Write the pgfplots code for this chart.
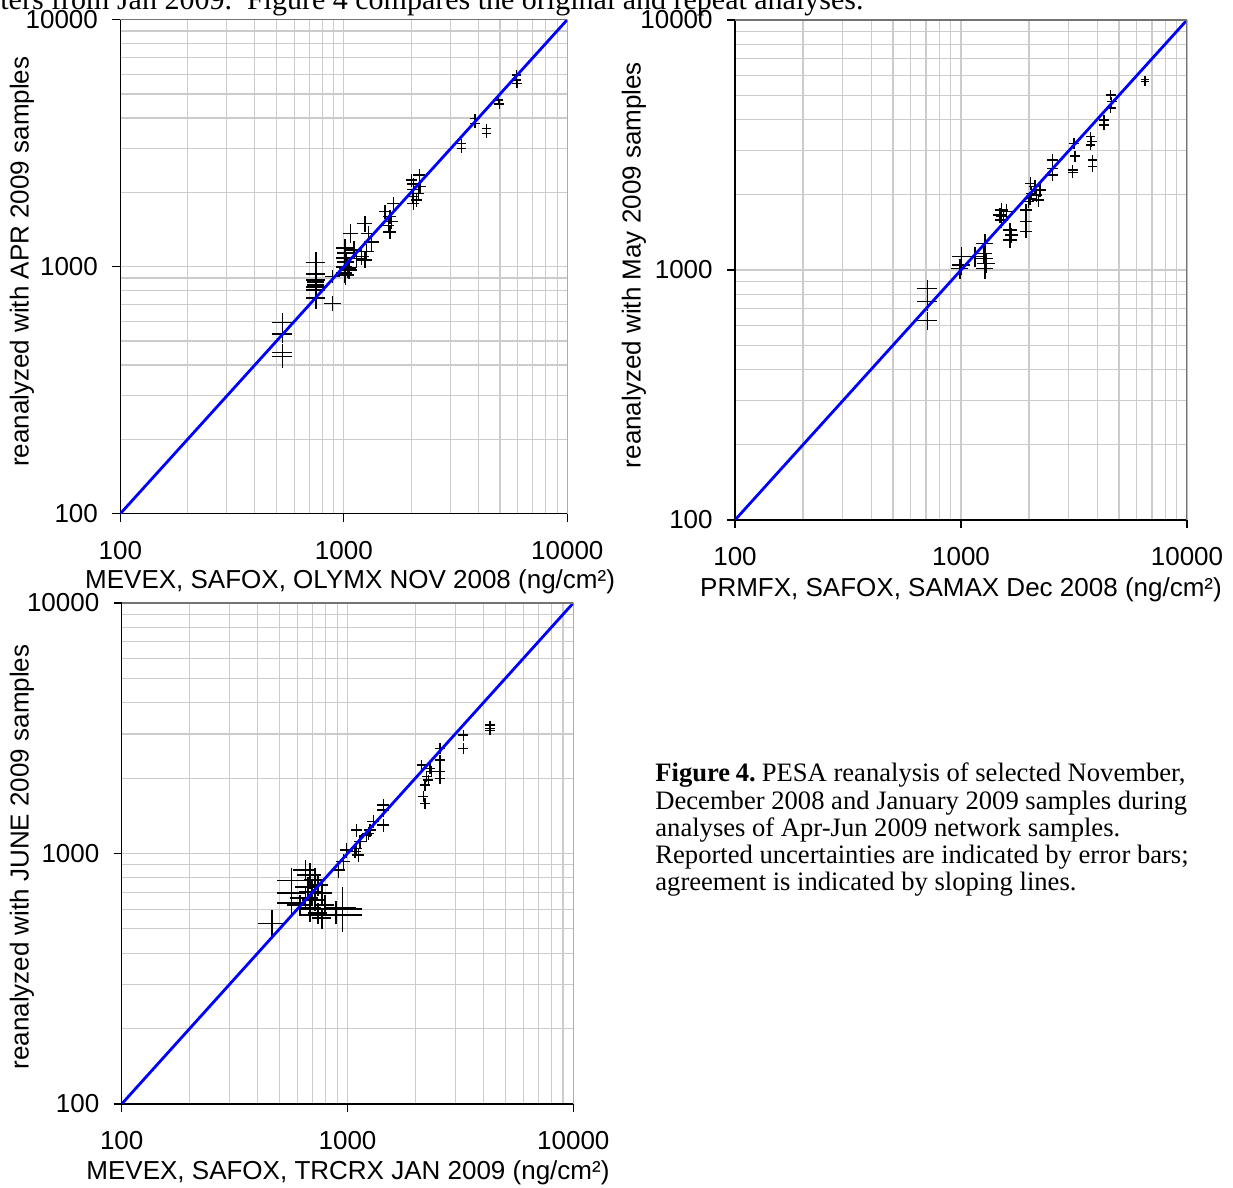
\documentclass[border=0pt]{standalone}
\usepackage{fontspec}
\setmainfont{Liberation Sans}
\newfontfamily\timesfont{Liberation Serif}
\usepackage{pgfplots}
\usepackage{pgfplotstable}
\pgfplotsset{compat=1.18}

\newcommand{\lblfont}{\fontsize{13}{15}\selectfont}

\pgfplotsset{every axis/.append style={
    scale only axis,
    axis lines=left, axis line style={-, black, line width=0.6pt},
    tick align=outside,
    major tick length=4pt, minor tick length=0pt,
    tick style={black, line width=0.6pt},
    grid=both,
    major grid style={draw=gray!40, line width=0.55pt},
    minor grid style={draw=gray!40, line width=0.55pt},
    xticklabel style={font=\lblfont, anchor=center, inner sep=0pt, yshift=-14.5pt},
    yticklabel style={font=\lblfont, anchor=east, inner sep=0pt, xshift=-7pt},
}}

% x y ex ey (relative errors)
\pgfplotstableread{
x y ex ey
533 593 0.10 0.10
533 534 0.10 0.08
533 449 0.10 0.08
533 432 0.10 0.10
751 1038 0.10 0.10
751 933 0.10 0.07
751 883 0.10 0.07
751 865 0.09 0.07
751 843 0.09 0.07
751 826 0.10 0.07
751 805 0.10 0.07
751 748 0.10 0.10
892 912 0.08 0.06
892 711 0.09 0.07
1074 1365 0.08 0.09
1013 1191 0.085 0.085
1020 1137 0.085 0.085
1013 1084 0.085 0.085
1024 1045 0.085 0.085
1005 997 0.085 0.085
1040 988 0.085 0.085
1005 943 0.085 0.085
1020 925 0.085 0.085
1055 970 0.085 0.085
1110 1170 0.085 0.085
1140 1080 0.085 0.085
1244 1499 0.075 0.075
1287 1365 0.075 0.075
1333 1256 0.075 0.075
1266 1150 0.075 0.075
1202 1098 0.075 0.075
1244 1064 0.075 0.075
1665 1806 0.065 0.065
1530 1670 0.065 0.065
1609 1594 0.065 0.065
1638 1521 0.065 0.065
1581 1470 0.065 0.065
1609 1380 0.065 0.065
2177 2351 0.06 0.06
2013 2244 0.06 0.06
2046 2162 0.06 0.06
2193 2108 0.06 0.06
2046 2058 0.06 0.06
2155 1982 0.06 0.06
2033 1920 0.06 0.06
2119 1862 0.06 0.06
2046 1806 0.06 0.06
3370 3159 0.05 0.045
3370 3015 0.05 0.045
3864 3989 0.05 0.045
3864 3806 0.05 0.045
4360 3634 0.05 0.045
4360 3467 0.05 0.045
4912 4731 0.05 0.045
4963 4558 0.05 0.045
5936 5971 0.05 0.045
5936 5700 0.05 0.045
5960 5526 0.05 0.045
}\dataA

\pgfplotstableread{
x y ex ey
712 845 0.10 0.08
712 747 0.10 0.08
712 627 0.10 0.08
1277 1279 0.09 0.09
1256 1166 0.09 0.09
1277 1114 0.09 0.09
1299 1064 0.09 0.09
1277 1016 0.09 0.09
1153 1130 0.09 0.09
1007 1130 0.09 0.09
1007 1047 0.09 0.09
990 1016 0.09 0.09
1514 1738 0.07 0.07
1593 1711 0.07 0.07
1488 1660 0.07 0.07
1539 1634 0.07 0.07
1514 1585 0.07 0.07
1648 1445 0.07 0.07
1676 1380 0.07 0.07
1648 1318 0.07 0.07
1940 1738 0.06 0.06
1940 1561 0.06 0.06
1940 1423 0.06 0.06
2034 2223 0.06 0.06
2126 2154 0.06 0.06
2237 2089 0.06 0.06
2055 2027 0.06 0.06
2163 1995 0.06 0.06
2020 1936 0.06 0.06
1986 1876 0.06 0.06
2198 1905 0.06 0.06
2545 2754 0.055 0.055
2545 2552 0.055 0.055
2545 2399 0.055 0.055
3162 3213 0.05 0.05
3194 2858 0.05 0.05
3122 2512 0.05 0.045
3122 2449 0.05 0.045
3749 3414 0.05 0.045
3788 3261 0.05 0.045
3749 3162 0.05 0.045
3826 2754 0.05 0.045
3826 2590 0.05 0.045
4293 3981 0.05 0.045
4293 3802 0.05 0.045
4597 5012 0.05 0.045
4644 4713 0.05 0.045
4597 4436 0.05 0.045
6518 5791 0.04 0.035
6518 5666 0.04 0.035
}\dataB

\pgfplotstableread{
x y ex ey
4276 3258 0.05 0.04
4276 3161 0.05 0.04
4276 3092 0.05 0.04
3258 2972 0.05 0.05
3258 2630 0.05 0.05
2569 2630 0.05 0.05
2569 2362 0.05 0.05
2569 2121 0.05 0.05
2569 1996 0.05 0.05
2131 2256 0.05 0.05
2319 2188 0.05 0.05
2360 2121 0.05 0.05
2243 2026 0.05 0.05
2280 1965 0.05 0.05
2204 1876 0.05 0.05
2166 1685 0.05 0.05
2204 1586 0.05 0.05
1440 1562 0.06 0.06
1440 1492 0.06 0.06
1440 1299 0.06 0.06
1301 1340 0.06 0.06
1258 1241 0.06 0.06
1237 1204 0.06 0.06
1216 1186 0.06 0.06
1098 1241 0.06 0.06
1136 1115 0.06 0.06
1098 1049 0.06 0.06
1080 1017 0.06 0.06
1116 986 0.06 0.06
992 1033 0.07 0.07
958 928 0.07 0.07
911 859 0.07 0.07
462 526 0.13 0.13
566 780 0.14 0.12
566 694 0.14 0.19
566 633 0.14 0.12
650 859 0.12 0.10
682 820 0.12 0.12
718 784 0.11 0.12
668 735 0.12 0.10
740 749 0.11 0.10
696 702 0.12 0.12
771 695 0.11 0.10
650 664 0.14 0.10
718 652 0.12 0.10
794 623 0.10 0.10
682 606 0.12 0.12
740 579 0.10 0.10
771 553 0.10 0.10
616 623 0.12 0.10
948 610 0.15 0.20
890 599 0.30 0.08
890 568 0.30 0.08
}\dataC

\begin{document}
\begin{tikzpicture}
\path[use as bounding box] (0,0) rectangle (616.5pt,594pt);
\clip (0,0) rectangle (616.5pt,594pt);

% cut-off line of running text at the top
\node[anchor=base west, inner sep=0pt, font=\timesfont\fontsize{15}{17}\selectfont] at (0pt,589pt)
  {ters from Jan 2009.\ \ Figure 4 compares the original and repeat analyses.};

% ---------- plot 1 ----------
\begin{axis}[at={(60.15pt,337.15pt)}, anchor=south west, width=223.5pt, height=247pt,
  xmode=log, ymode=log, xmin=100, xmax=10000, ymin=100, ymax=10000,
  xtick={100,1000,10000}, ytick={100,1000,10000},
  xticklabels={100,1000,10000}, yticklabels={100,1000,10000},
  every axis x label/.style={font=\lblfont, at={(axis description cs:0.514,-0.138)}, anchor=center},
  every axis y label/.style={font=\lblfont, at={(axis description cs:-0.22,0.51)}, anchor=center, rotate=90},
  xlabel={MEVEX, SAFOX, OLYMX NOV 2008 (ng/cm²)},
  ylabel={reanalyzed with APR 2009 samples}]
\addplot[draw=none, mark=none,
    error bars/x dir=both, error bars/x explicit relative,
    error bars/y dir=both, error bars/y explicit relative,
    error bars/error mark=none,
    error bars/error bar style={draw=black, line width=0.75pt}]
  table[x=x, y=y, x error=ex, y error=ey] {\dataA};
\addplot[blue, line width=1.4pt] coordinates {(100,100) (10000,10000)};
\draw[black!55, line width=0.6pt] (rel axis cs:0,1) -- (rel axis cs:1,1) -- (rel axis cs:1,0);
\end{axis}

% ---------- plot 2 ----------
\begin{axis}[at={(367.5pt,334pt)}, anchor=south west, width=226pt, height=250pt,
  xmode=log, ymode=log, xmin=100, xmax=10000, ymin=100, ymax=10000,
  xtick={100,1000,10000}, ytick={100,1000,10000},
  xticklabels={100,1000,10000}, yticklabels={100,1000,10000},
  every axis x label/.style={font=\lblfont, at={(axis description cs:0.5,-0.139)}, anchor=center},
  every axis y label/.style={font=\lblfont, at={(axis description cs:-0.2235,0.51)}, anchor=center, rotate=90},
  xlabel={PRMFX, SAFOX, SAMAX Dec 2008 (ng/cm²)},
  ylabel={reanalyzed with May 2009 samples}]
\addplot[draw=none, mark=none,
    error bars/x dir=both, error bars/x explicit relative,
    error bars/y dir=both, error bars/y explicit relative,
    error bars/error mark=none,
    error bars/error bar style={draw=black, line width=0.75pt}]
  table[x=x, y=y, x error=ex, y error=ey] {\dataB};
\addplot[blue, line width=1.4pt] coordinates {(100,100) (10000,10000)};
\draw[black!55, line width=0.6pt] (rel axis cs:0,1) -- (rel axis cs:1,1) -- (rel axis cs:1,0);
\end{axis}

% ---------- plot 3 ----------
\begin{axis}[at={(60.85pt,42pt)}, anchor=south west, width=225.8pt, height=250.5pt,
  xmode=log, ymode=log, xmin=100, xmax=10000, ymin=100, ymax=10000,
  xtick={100,1000,10000}, ytick={100,1000,10000},
  xticklabels={100,1000,10000}, yticklabels={100,1000,10000},
  every axis x label/.style={font=\lblfont, at={(axis description cs:0.501,-0.137)}, anchor=center},
  every axis y label/.style={font=\lblfont, at={(axis description cs:-0.221,0.493)}, anchor=center, rotate=90},
  xlabel={MEVEX, SAFOX, TRCRX JAN 2009 (ng/cm²)},
  ylabel={reanalyzed with JUNE 2009 samples}]
\addplot[draw=none, mark=none,
    error bars/x dir=both, error bars/x explicit relative,
    error bars/y dir=both, error bars/y explicit relative,
    error bars/error mark=none,
    error bars/error bar style={draw=black, line width=0.75pt}]
  table[x=x, y=y, x error=ex, y error=ey] {\dataC};
\addplot[blue, line width=1.4pt] coordinates {(100,100) (10000,10000)};
\draw[black!55, line width=0.6pt] (rel axis cs:0,1) -- (rel axis cs:1,1) -- (rel axis cs:1,0);
\end{axis}

% ---------- caption ----------
\begin{scope}[every node/.style={anchor=base west, inner sep=0pt, font=\timesfont\fontsize{13.3}{15}\selectfont}]
\node at (327.5pt,203pt) {\textbf{Figure\kern-0.5pt\ 4.}\kern3pt PESA reanalysis of selected November,};
\node at (327.5pt,189.4pt) {December 2008 and January 2009 samples during};
\node at (327.5pt,175.8pt) {analyses of Apr-Jun 2009 network samples.};
\node at (327.5pt,162.2pt) {Reported uncertainties are indicated by error bars;};
\node at (327.5pt,148.6pt) {agreement is indicated by sloping lines.};
\end{scope}
\end{tikzpicture}
\end{document}
